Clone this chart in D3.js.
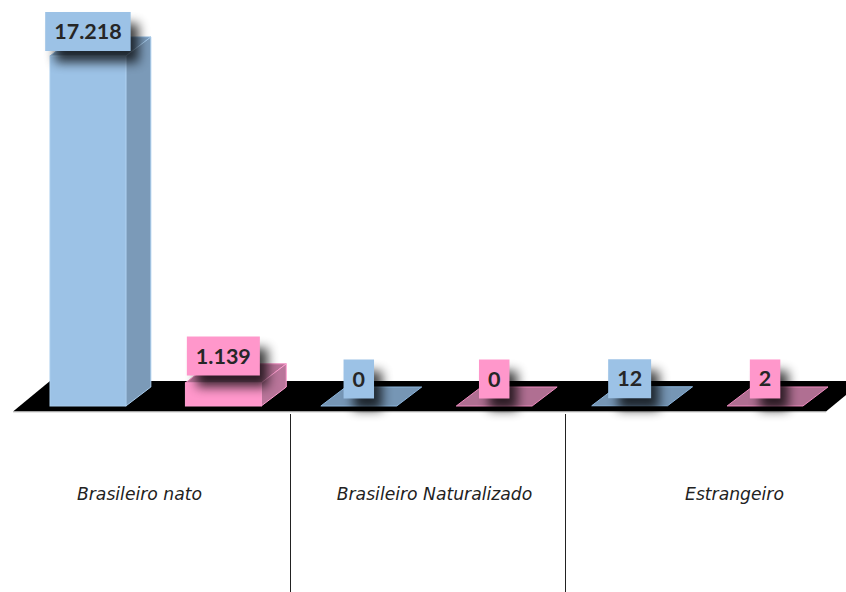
<!DOCTYPE html>
<html>
<head>
<meta charset="utf-8">
<script src="https://cdn.jsdelivr.net/npm/d3@7"></script>
<style>
  html, body { margin: 0; padding: 0; background: #fff; }
  svg { display: block; }
</style>
</head>
<body>
<svg id="chart" width="846" height="592"></svg>
<script>
// values, left to right
let categories = ["Brasileiro nato", "Brasileiro Naturalizado", "Estrangeiro"];
let barKeys = ["nato-a", "nato-b", "natur-a", "natur-b", "estr-a", "estr-b"];
let barValues = [17218, 1139, 0, 0, 12, 2];
let barSeries = ["blue", "pink", "blue", "pink", "blue", "pink"];

let baseY = 406, topY = 56, depthX = 25, depthY = 19;

let colors = {
    blue: {front: "#9cc2e6", side: "#7b9ab8", top: "#7c9dbd", edge: "#a9cdee", flat: "#7696b5", line: "#8db6dd"},
    pink: {front: "#ff97cb", side: "#b9759a", top: "#b87398", edge: "#ff9fd0", flat: "#b06f92", line: "#f08cc0"}
};

let fmt = d3.formatLocale({decimal: ",", thousands: ".", grouping: [3], currency: ["", ""]}).format(",d");

let svg = d3.select("#chart");

let x = d3.scaleBand()
    .domain(barKeys)
    .range([50, 803])
    .paddingInner(0.44)
    .paddingOuter(0);

let y = d3.scaleLinear()
    .domain([0, d3.max(barValues)])
    .range([baseY, topY]);

// label sits a bit closer to the bar on the tall one
let labelLift = d3.scaleLinear()
    .domain([0, d3.max(barValues)])
    .range([27, 24.5]);

let catX = d3.scaleOrdinal()
    .domain(categories)
    .range([139.5, 434.5, 734.5]);

let sepScale = d3.scaleBand()
    .domain(categories)
    .range([15.5, 840.5]);

let defs = svg.append("defs");
defs.append("filter")
    .attr("id", "soft")
    .attr("x", "-80%").attr("y", "-80%")
    .attr("width", "260%").attr("height", "260%")
    .append("feGaussianBlur")
    .attr("stdDeviation", 5.5);

//floor
svg.append("path")
    .attr("d", "M13,411.5 L50,381 L846,381 L846,395 L826,411.5 Z")
    .attr("fill", "#000");
svg.append("line")
    .attr("x1", 13).attr("x2", 826)
    .attr("y1", 412).attr("y2", 412)
    .attr("stroke", "#ccc")
    .attr("stroke-width", 1);

//separators
svg.selectAll(".sep")
    .data(categories.slice(1))
    .enter()
    .append("line")
    .attr("class", "sep")
    .attr("x1", d => sepScale(d))
    .attr("x2", d => sepScale(d))
    .attr("y1", 414)
    .attr("y2", 592)
    .attr("stroke", "#222")
    .attr("stroke-width", 1);

//category labels
svg.selectAll(".cat")
    .data(categories)
    .enter()
    .append("text")
    .attr("class", "cat")
    .attr("x", d => catX(d))
    .attr("y", 500)
    .attr("text-anchor", "middle")
    .attr("font-family", "'DejaVu Sans', sans-serif")
    .attr("font-style", "italic")
    .attr("font-size", "17.2px")
    .attr("fill", "#222")
    .text(d => d);

let data = barKeys.map((k, i) => ({key: k, value: barValues[i], series: barSeries[i]}));

//bars
let bars = svg.selectAll(".bar")
    .data(data)
    .enter()
    .append("g")
    .attr("class", "bar");

bars.append("path")
    .attr("d", d => {
        let l = x(d.key), r = l + x.bandwidth(), t = y(d.value);
        return `M${l},${t} L${l + depthX},${t - depthY} L${r + depthX},${t - depthY} L${r},${t} Z`;
    })
    .attr("fill", d => d.value > 100 ? colors[d.series].top : colors[d.series].flat)
    .attr("stroke", d => colors[d.series].line)
    .attr("stroke-width", 1);

bars.filter(d => y(d.value) < baseY - 1).append("path")
    .attr("d", d => {
        let r = x(d.key) + x.bandwidth(), t = y(d.value);
        return `M${r},${t} L${r + depthX},${t - depthY} L${r + depthX},${baseY - depthY} L${r},${baseY} Z`;
    })
    .attr("fill", d => colors[d.series].side)
    .attr("stroke", d => colors[d.series].edge)
    .attr("stroke-width", 1);

bars.filter(d => y(d.value) < baseY - 1).append("rect")
    .attr("x", d => x(d.key))
    .attr("y", d => y(d.value))
    .attr("width", x.bandwidth())
    .attr("height", d => baseY - y(d.value))
    .attr("fill", d => colors[d.series].front)
    .attr("stroke", d => colors[d.series].edge)
    .attr("stroke-width", 1);

//value labels
let labels = svg.selectAll(".label")
    .data(data)
    .enter()
    .append("g")
    .attr("class", "label")
    .attr("transform", d => `translate(${x(d.key) + x.bandwidth() / 2},${y(d.value) - labelLift(d.value)})`);

let shadow = labels.append("rect").attr("fill", "#000").attr("opacity", 0.75).attr("filter", "url(#soft)");
let box = labels.append("rect").attr("fill", d => colors[d.series].front);

labels.append("text")
    .attr("text-anchor", "middle")
    .attr("dy", "0.35em")
    .attr("font-family", "Lato, Carlito, sans-serif")
    .attr("font-weight", "bold")
    .attr("font-size", "21.5px")
    .attr("fill", "#262626")
    .text(d => fmt(d.value))
    .each(function(d) { d.w = this.getComputedTextLength() + 18; });

box.attr("x", d => -d.w / 2).attr("y", -19.5).attr("width", d => d.w).attr("height", 39);
shadow.attr("x", d => -d.w / 2 + 10).attr("y", -8).attr("width", d => d.w - 2).attr("height", 39);
</script>
</body>
</html>
